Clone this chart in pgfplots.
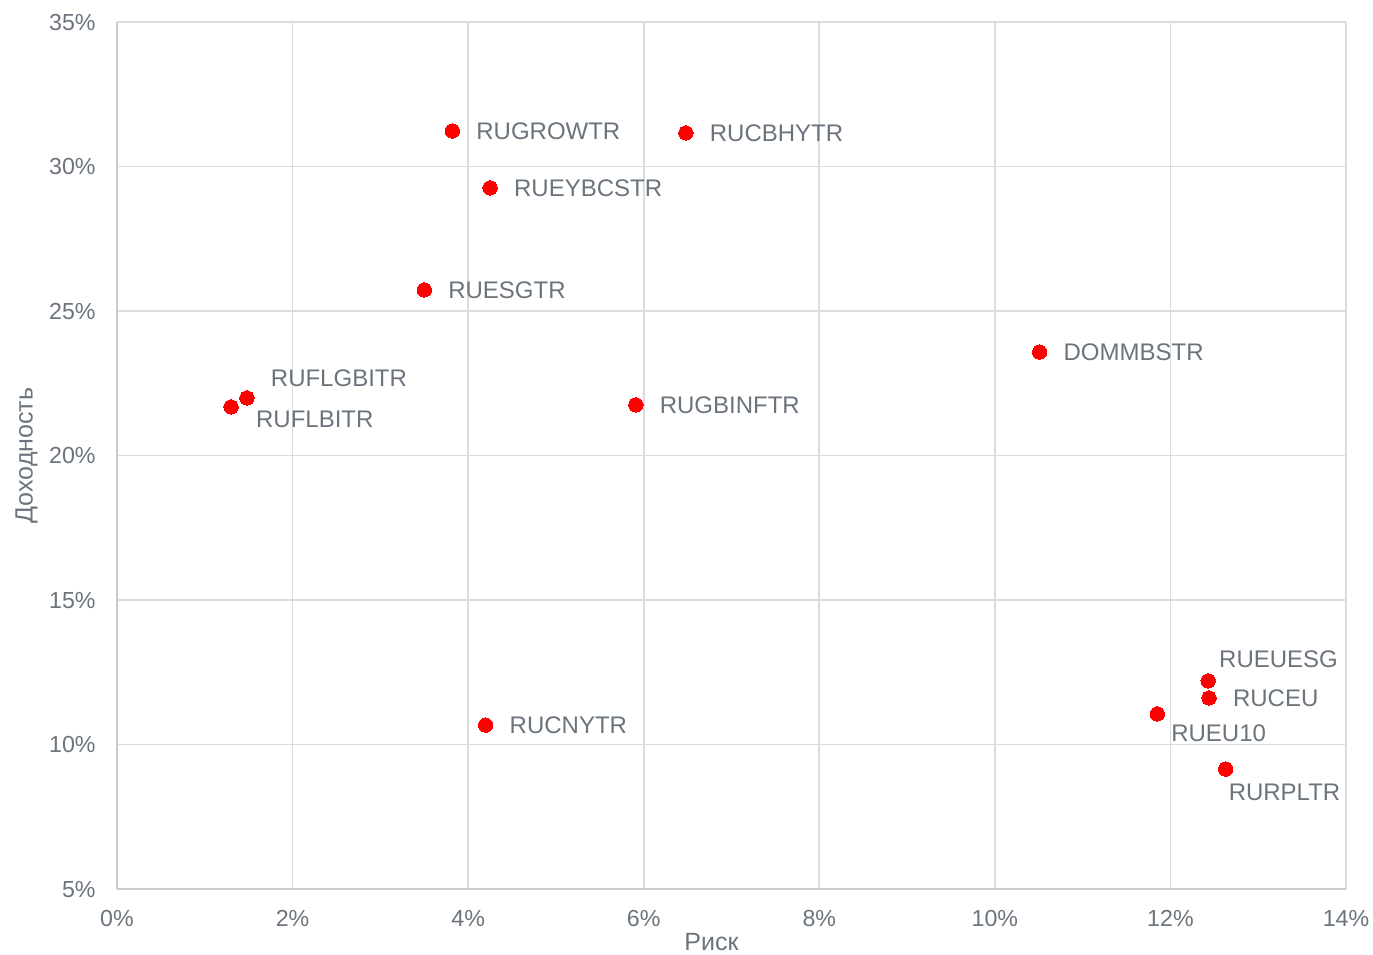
\documentclass[border=0pt]{standalone}
\usepackage{fontspec}
\setmainfont{Liberation Sans}
\usepackage{pgfplots}
\usepackage{pgfplotstable}
\pgfplotsset{compat=1.18}
\definecolor{txtgray}{HTML}{6B747D}
\definecolor{gridgray}{HTML}{DCDCDC}
\definecolor{axisgray}{HTML}{C8CCD0}
\pgfplotstableread{
x y label dx dy
3.82 31.23 RUGROWTR 12 0
6.48 31.16 RUCBHYTR 12 0
4.25 29.26 RUEYBCSTR 12 0
3.50 25.73 RUESGTR 12 0
10.51 23.58 DOMMBSTR 12 0
1.48 21.99 RUFLGBITR 12 10
1.30 21.68 RUFLBITR 12.5 -6
5.91 21.75 RUGBINFTR 12 0
4.20 10.67 RUCNYTR 12 0
12.43 12.20 RUEUESG 5.5 11
12.44 11.61 RUCEU 12 0
11.85 11.06 RUEU10 7 -9.5
12.63 9.15 RURPLTR 1.5 -11.5
}\datatable
\begin{document}
\begin{tikzpicture}
\fontsize{12}{14}\selectfont
\begin{axis}[
  scale only axis,
  width=614.5pt, height=433.5pt,
  xmin=0, xmax=14, ymin=5, ymax=35,
  xtick={0,2,...,14}, ytick={5,10,...,35},
  xticklabel={\pgfmathprintnumber{\tick}\%},
  yticklabel={\pgfmathprintnumber{\tick}\%},
  /pgf/number format/assume math mode=true,
  major tick length=0pt,
  grid=major,
  major grid style={gridgray, line width=0.8pt},
  axis x line*=bottom, axis y line*=left,
  axis line style={axisgray, line width=1pt},
  every axis x line/.append style={-},
  every axis y line/.append style={-},
  tick label style={txtgray, font=\fontsize{11.6}{14}\selectfont, inner sep=0pt, text depth=0pt},
  xticklabel style={anchor=north, yshift=-10.5pt},
  yticklabel style={anchor=east, xshift=-10.5pt},
  xlabel={Риск}, ylabel={Доходность},
  label style={txtgray, font=\fontsize{12.5}{15}\selectfont, inner sep=0pt, text depth=0pt},
  xlabel style={at={(axis description cs:0.5,0)}, anchor=north, yshift=-22pt, xshift=-10pt},
  ylabel style={at={(axis description cs:0,0.5)}, anchor=south, yshift=42pt},
  clip=false,
]
\addplot[only marks, mark=*, mark size=3.6pt, color=red, mark options={fill=red, draw=red, line width=0pt},
  point meta=explicit symbolic,
  visualization depends on={\thisrow{dx} \as \mydx},
  visualization depends on={\thisrow{dy} \as \mydy},
  nodes near coords,
  every node near coord/.append style={anchor=west, inner sep=0pt, text depth=0pt, text=txtgray,
     font=\fontsize{12}{14}\selectfont, xshift=\mydx pt, yshift=\mydy pt},
] table[x=x, y=y, meta=label] {\datatable};
\end{axis}
\pgfresetboundingbox
\path[use as bounding box] ([xshift=-58.5pt,yshift=-33pt]current axis.south west) rectangle ([xshift=13.5pt,yshift=11pt]current axis.north east);
\end{tikzpicture}
\end{document}
